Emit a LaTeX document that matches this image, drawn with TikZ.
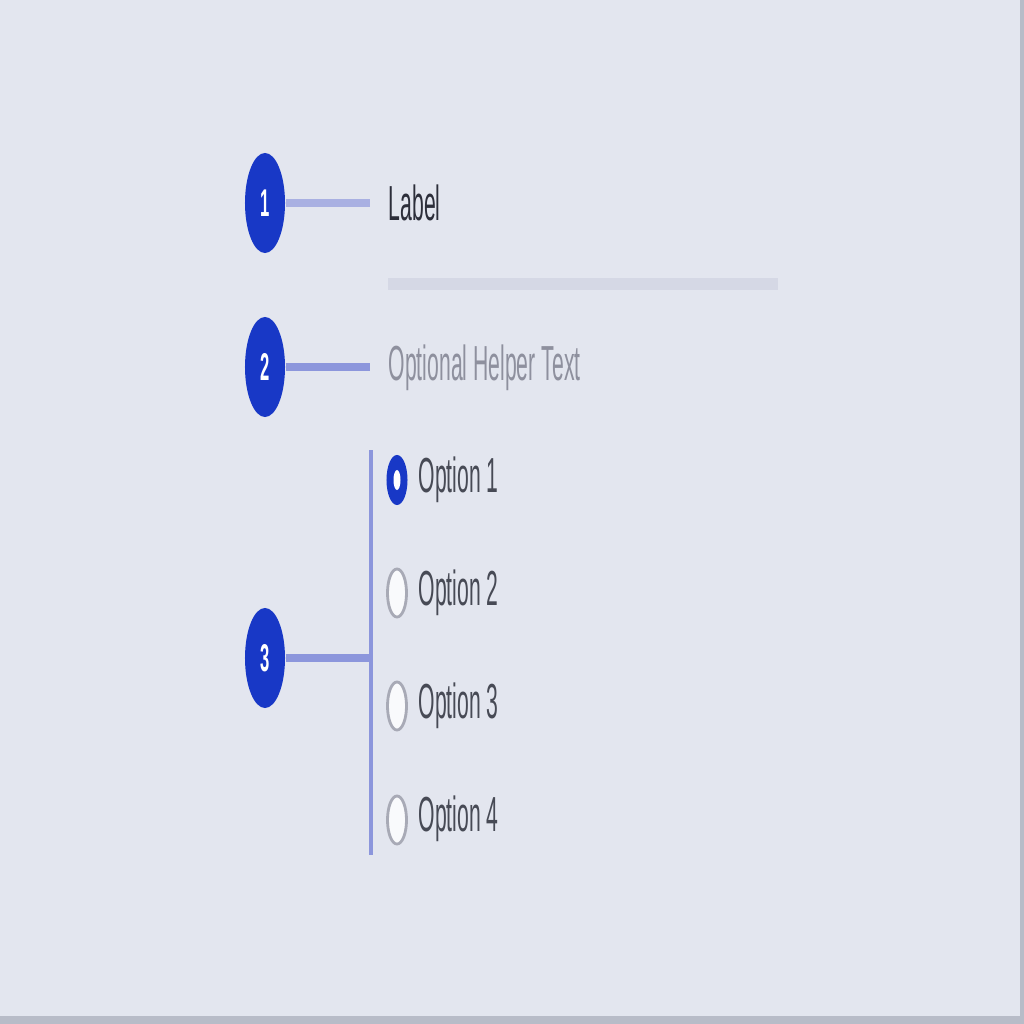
\documentclass[tikz,border=0pt]{standalone}
\usepackage{fontspec}
\setmainfont{Liberation Sans}
\usepackage{graphicx}
\usepackage{xcolor}
\usepackage{tikz}
\usetikzlibrary{shapes.geometric,positioning}
\definecolor{bgcol}{HTML}{E3E6EF}
\definecolor{edgegray}{HTML}{B8BCC8}
\definecolor{badgeblue}{HTML}{1838C6}
\definecolor{leadlight}{HTML}{A9B0E2}
\definecolor{leadblue}{HTML}{8C96DC}
\definecolor{rulegray}{HTML}{D5D8E5}
\definecolor{darktext}{HTML}{2C2E3A}
\definecolor{helpertext}{HTML}{8E909E}
\definecolor{ringgray}{HTML}{A8AAB6}
\newcommand\narrow[1]{\scalebox{0.43}[1]{#1}}

\begin{document}
\begin{tikzpicture}[x=0.01cm,y=-0.01cm,
  badge/.style={ellipse,fill=badgeblue,inner sep=0pt,minimum width=0.4cm,minimum height=1cm,
    text=white,font=\fontsize{11}{11}\selectfont\bfseries},
  lead/.style={line width=2.3pt,leadblue},
  txt/.style={anchor=west,inner sep=0pt,text=darktext,font=\fontsize{14}{14}\selectfont},
  radiooff/.style={ellipse,draw=ringgray,line width=0.8pt,fill=white!80!bgcol,inner sep=0pt,
    minimum width=0.19cm,minimum height=0.48cm},
  radioon/.style={ellipse,fill=badgeblue,inner sep=0pt,minimum width=0.21cm,minimum height=0.5cm},
  radiodot/.style={ellipse,fill=white,inner sep=0pt,minimum width=0.07cm,minimum height=0.2cm}]
  \fill[bgcol] (0,0) rectangle (1024,1024);
  \fill[edgegray] (0,1016) rectangle (1024,1024);
  \fill[edgegray] (1020,0) rectangle (1024,1024);

  \node[badge] (b1) at (265,203) {\narrow{1}};
  \node[badge] (b2) at (265,367) {\narrow{2}};
  \node[badge] (b3) at (265,658) {\narrow{3}};

  \node[txt] (label) at (388,203) {\narrow{Label}};
  \node[txt,text=helpertext] (helper) at (388,368) {\narrow{Optional Helper Text}};
  \coordinate (l1) at (370,203);
  \coordinate (l2) at (370,367);
  \coordinate (l3) at (371,658);
  \coordinate (ruleL) at (388,284);
  \coordinate (ruleR) at (778,284);
  \coordinate (brTop) at (371,450);
  \coordinate (brBot) at (371,855);

  \draw[line width=3.4pt,rulegray] (ruleL) -- (ruleR);
  \draw[lead,leadlight] (b1.east) -- (l1);
  \draw[lead] (b2.east) -- (l2);
  \draw[lead] (b3.east) -- (l3);
  \draw[line width=0.9pt,leadblue] (brTop) -- (brBot);

  \node[radioon] (r1) at (397,480) {};
  \node[radiodot] (r1dot) at (r1) {};
  \node[radiooff] (r2) at (397,593) {};
  \node[radiooff] (r3) at (397,706) {};
  \node[radiooff] (r4) at (397,820) {};
  \foreach \i in {1,...,4}
    \node[txt,text=darktext!85!bgcol] (o\i) at (418,{367+113*\i}) {\narrow{Option \i}};
\end{tikzpicture}
\end{document}
